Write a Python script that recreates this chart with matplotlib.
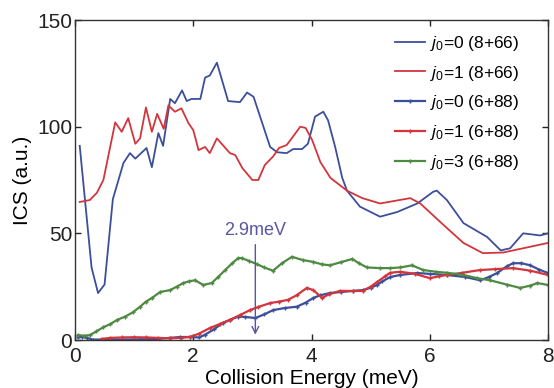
import matplotlib
matplotlib.use("Agg")
import matplotlib.pyplot as plt

plt.rcParams['font.family'] = ['Liberation Sans', 'DejaVu Sans']
plt.rcParams['mathtext.fontset'] = 'custom'
plt.rcParams['mathtext.rm'] = 'Liberation Sans'
plt.rcParams['mathtext.it'] = 'Liberation Sans:italic'

# ---- data ----
e_b66 = [0.08, 0.28, 0.39, 0.5, 0.64, 0.82, 0.93, 1.02, 1.21, 1.3, 1.41, 1.49, 1.61, 1.69, 1.81, 1.89,
         1.97, 2.12, 2.2, 2.28, 2.4, 2.59, 2.79, 2.91, 3.02, 3.3, 3.42, 3.58, 3.69, 3.84, 3.94, 4.06,
         4.2, 4.28, 4.4, 4.52, 4.6, 4.82, 5.16, 5.45, 5.79, 6.06, 6.12, 6.29, 6.57, 6.97, 7.2, 7.36,
         7.58, 7.87, 8.0]
v_b66 = [91, 34, 22, 26, 66, 83, 87.6, 85, 90, 81, 97, 91, 113, 111, 117, 112,
         113, 113, 123, 124, 130, 112, 111.5, 116, 114, 90.5, 88, 87.6, 89.5, 89.5, 92, 104.7,
         107, 103, 90.5, 76, 70, 62.5, 57.8, 60, 64, 69.5, 70, 65.6, 54.8, 48.3, 42, 43,
         50, 49, 50]

e_r66 = [0.08, 0.25, 0.37, 0.48, 0.68, 0.79, 0.9, 1.02, 1.1, 1.2, 1.3, 1.39, 1.5, 1.58, 1.69, 1.8,
         1.92, 2.0, 2.09, 2.2, 2.28, 2.4, 2.48, 2.62, 2.71, 2.83, 3.0, 3.1, 3.21, 3.35, 3.45, 3.58,
         3.67, 3.81, 3.9, 4.01, 4.15, 4.32, 4.6, 4.86, 5.16, 5.67, 5.84, 6.23, 6.57, 6.9, 7.24, 7.58, 8.0]
v_r66 = [64.7, 65.6, 69, 75, 102, 97.6, 104, 92, 94.5, 109, 97.6, 106, 99, 110, 107, 108.6,
         101.6, 98.4, 89, 90.5, 87.6, 94.5, 92, 87.6, 86.7, 80.6, 75, 75, 82, 86, 90, 91.4,
         94.7, 100, 99.4, 93.8, 83.4, 76, 70, 66.5, 64, 66.5, 64, 54, 45.5, 40.7, 41, 43, 45.5]

e_b88 = [0.05, 0.12, 0.2, 0.3, 0.5, 0.8, 1.1, 1.4, 1.6, 1.78, 1.95, 2.1, 2.2, 2.35, 2.5, 2.62, 2.76,
         2.88, 3.05, 3.2, 3.35, 3.55, 3.75, 3.9, 4.03, 4.15, 4.31, 4.5, 4.7, 4.87, 5.0, 5.11, 5.2,
         5.33, 5.5, 5.79, 6.0, 6.29, 6.6, 6.85, 7.0, 7.14, 7.3, 7.41, 7.55, 7.7, 7.85, 8.0]
v_b88 = [1.2, 1.5, 1.0, 0.2, 0.2, 0.2, 0.3, 0.5, 1.0, 1.4, 1.4, 1.2, 2.5, 5, 8, 9.4, 11,
         10.8, 10.3, 12, 14, 15, 15.6, 17.5, 19.7, 21, 22, 22.5, 23, 23.4, 24.5, 25.8, 27.5,
         29.5, 30.5, 31.4, 31, 30.5, 29.5, 28, 29.5, 31.4, 34.5, 36, 36, 35, 33, 31.4]

e_r88 = [0.45, 0.6, 0.8, 1.0, 1.2, 1.4, 1.6, 1.8, 1.95, 2.1, 2.28, 2.45, 2.62, 2.79, 2.96, 3.1,
         3.3, 3.45, 3.6, 3.75, 3.92, 4.03, 4.18, 4.3, 4.48, 4.7, 4.87, 5.0, 5.11, 5.25, 5.33, 5.5,
         5.75, 6.0, 6.15, 6.29, 6.55, 6.85, 7.1, 7.41, 7.7, 8.0]
v_r88 = [0.5, 1.0, 1.2, 1.3, 1.2, 1.0, 0.8, 1.0, 1.5, 3, 5.6, 7.5, 9.4, 11.7, 14, 15.5,
         17.3, 18, 18.8, 21, 24.4, 23.4, 19.7, 21.5, 23, 23, 23, 25, 27.2, 30, 31.5, 32,
         31, 29, 29.8, 30.5, 31.5, 32.8, 33.2, 33.7, 32.5, 30.5]

e_g88 = [0.05, 0.15, 0.25, 0.36, 0.48, 0.6, 0.71, 0.85, 0.98, 1.1, 1.2, 1.3, 1.44, 1.61, 1.72, 1.83,
         1.93, 2.03, 2.17, 2.31, 2.42, 2.54, 2.66, 2.76, 2.82, 2.95, 3.08, 3.2, 3.35, 3.5, 3.67, 3.85,
         4.03, 4.17, 4.31, 4.5, 4.69, 4.8, 4.94, 5.16, 5.33, 5.5, 5.7, 5.89, 6.1, 6.3, 6.57, 6.8,
         7.02, 7.3, 7.53, 7.7, 7.82, 8.0]
v_g88 = [2.3, 2.0, 2.3, 4, 6, 7.5, 9.4, 11, 13, 15.6, 18, 19.7, 22.5, 23.4, 25, 26.7,
         27.5, 28, 25.8, 26.7, 29.5, 32.8, 36, 38.4, 38.4, 37, 35.5, 34, 32.5, 36, 39, 37.5,
         36.6, 35.5, 35, 36.5, 38, 36, 34, 33.7, 33.7, 34, 35, 32.8, 32, 31.5, 30.5, 29,
         28, 26, 24.4, 25.5, 26.7, 25.8]

labels = [r'$\mathit{j}_{\mathit{0}}$=0 (8+66)', r'$\mathit{j}_{\mathit{0}}$=1 (8+66)',
          r'$\mathit{j}_{\mathit{0}}$=0 (6+88)', r'$\mathit{j}_{\mathit{0}}$=1 (6+88)',
          r'$\mathit{j}_{\mathit{0}}$=3 (6+88)']

x_ticks = [0, 2, 4, 6, 8]
y_ticks = [0, 50, 100, 150]
arrow_e = 3.05
annot_text = '2.9meV'

BLUE = '#3c4f9a'
RED = '#d2363c'
GREEN = '#4f8a42'
ANN = '#5a55a0'

fig = plt.figure(figsize=(5.54, 3.88), dpi=100)
ax = fig.add_axes([75/554, 1-340/388, (548-75)/554, (340-20)/388])

ax.plot(e_b66, v_b66, color=BLUE, lw=1.3, label=labels[0], zorder=3)
ax.plot(e_r66, v_r66, color=RED, lw=1.3, label=labels[1], zorder=3)
mk = dict(marker='+', markersize=3.5, markeredgewidth=1.0, lw=1.6)
ax.plot(e_b88, v_b88, color=BLUE, label=labels[2], zorder=2, **mk)
ax.plot(e_r88, v_r88, color=RED, label=labels[3], zorder=2, **mk)
ax.plot(e_g88, v_g88, color=GREEN, label=labels[4], zorder=2, **mk)

ax.annotate('', xy=(arrow_e, 1.2), xytext=(arrow_e, 46),
            arrowprops=dict(arrowstyle='->', color=ANN, lw=1.0, mutation_scale=12))
ax.text(arrow_e, 47.5, annot_text, color=ANN, fontsize=13, ha='center', va='bottom')

ax.set_xlim(0, 8)
ax.set_ylim(0, 150)
ax.set_xticks(x_ticks)
ax.set_yticks(y_ticks)
ax.tick_params(direction='in', length=4, width=1, labelsize=15,
               top=True, right=True, colors='#222222')
ax.tick_params(axis='x', pad=5)
ax.tick_params(axis='y', pad=2)
for s in ax.spines.values():
    s.set_color('#333333')
    s.set_linewidth(1.0)

ax.set_xlabel('Collision Energy (meV)', fontsize=15, labelpad=2)
ax.set_ylabel('ICS (a.u.)', fontsize=15, labelpad=4)

leg = ax.legend(loc='upper right', bbox_to_anchor=(0.964, 0.995), frameon=False,
                fontsize=12.5, handlelength=1.75, handletextpad=0.25, labelspacing=0.62,
                borderaxespad=0.3, numpoints=1)

fig.savefig('out.png', dpi=100)
